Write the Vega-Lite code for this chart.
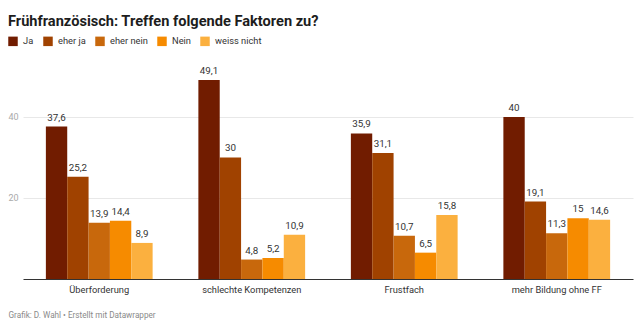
{
  "$schema": "https://vega.github.io/schema/vega-lite/v6.json",
  "width": 610,
  "height": 199,
  "autosize": {"type": "none"},
  "padding": {"left": 23, "top": 80, "right": 7, "bottom": 49},
  "config": {
    "view": {"stroke": null},
    "font": "Roboto",
    "locale": {"number": {"decimal": ",", "thousands": ".", "grouping": [3], "currency": ["", "€"]}}
  },
  "title": {
    "text": "Frühfranzösisch: Treffen folgende Faktoren zu?",
    "anchor": "start",
    "frame": "group",
    "font": "Roboto",
    "fontSize": 14.6,
    "fontWeight": "bold",
    "color": "#1d1d1d",
    "baseline": "alphabetic",
    "dx": -15,
    "offset": -4.5
  },
  "data": {
    "values": [
      {"kategorie": "Überforderung", "antwort": "Ja", "wert": 37.6},
      {"kategorie": "Überforderung", "antwort": "eher ja", "wert": 25.2},
      {"kategorie": "Überforderung", "antwort": "eher nein", "wert": 13.9},
      {"kategorie": "Überforderung", "antwort": "Nein", "wert": 14.4},
      {"kategorie": "Überforderung", "antwort": "weiss nicht", "wert": 8.9},
      {"kategorie": "schlechte Kompetenzen", "antwort": "Ja", "wert": 49.1},
      {"kategorie": "schlechte Kompetenzen", "antwort": "eher ja", "wert": 30},
      {"kategorie": "schlechte Kompetenzen", "antwort": "eher nein", "wert": 4.8},
      {"kategorie": "schlechte Kompetenzen", "antwort": "Nein", "wert": 5.2},
      {"kategorie": "schlechte Kompetenzen", "antwort": "weiss nicht", "wert": 10.9},
      {"kategorie": "Frustfach", "antwort": "Ja", "wert": 35.9},
      {"kategorie": "Frustfach", "antwort": "eher ja", "wert": 31.1},
      {"kategorie": "Frustfach", "antwort": "eher nein", "wert": 10.7},
      {"kategorie": "Frustfach", "antwort": "Nein", "wert": 6.5},
      {"kategorie": "Frustfach", "antwort": "weiss nicht", "wert": 15.8},
      {"kategorie": "mehr Bildung ohne FF", "antwort": "Ja", "wert": 40},
      {"kategorie": "mehr Bildung ohne FF", "antwort": "eher ja", "wert": 19.1},
      {"kategorie": "mehr Bildung ohne FF", "antwort": "eher nein", "wert": 11.3},
      {"kategorie": "mehr Bildung ohne FF", "antwort": "Nein", "wert": 15},
      {"kategorie": "mehr Bildung ohne FF", "antwort": "weiss nicht", "wert": 14.6}
    ]
  },
  "encoding": {
    "x": {
      "field": "kategorie",
      "type": "nominal",
      "sort": ["Überforderung", "schlechte Kompetenzen", "Frustfach", "mehr Bildung ohne FF"],
      "scale": {"paddingInner": 0.3, "paddingOuter": 0.15},
      "axis": {
        "title": "Grafik: D. Wahl • Erstellt mit Datawrapper",
        "titleFont": "Roboto",
        "titleFontSize": 8.2,
        "titleFontWeight": "normal",
        "titleColor": "#8a8a8a",
        "titleX": -15,
        "titleY": 36,
        "titleAlign": "left",
        "titleAnchor": "start",
        "titleBaseline": "middle",
        "labelAngle": 0,
        "labelFontSize": 9.3,
        "labelColor": "#333333",
        "labelPadding": 6,
        "ticks": false,
        "domainColor": "#333333",
        "domainWidth": 1
      }
    },
    "xOffset": {
      "field": "antwort",
      "type": "nominal",
      "sort": ["Ja", "eher ja", "eher nein", "Nein", "weiss nicht"],
      "scale": {"paddingInner": 0, "paddingOuter": 0}
    },
    "y": {
      "field": "wert",
      "type": "quantitative",
      "scale": {"domain": [0, 49.1], "nice": false},
      "axis": {
        "title": null,
        "values": [20, 40],
        "domain": false,
        "ticks": false,
        "labelFontSize": 9,
        "labelColor": "#aaaaaa",
        "labelPadding": 5,
        "gridColor": "#e8e8e8",
        "gridWidth": 1
      }
    }
  },
  "layer": [
    {
      "mark": {"type": "bar"},
      "encoding": {
        "color": {
          "field": "antwort",
          "type": "nominal",
          "sort": ["Ja", "eher ja", "eher nein", "Nein", "weiss nicht"],
          "scale": {
            "domain": ["Ja", "eher ja", "eher nein", "Nein", "weiss nicht"],
            "range": ["#711c00", "#a04200", "#c8680c", "#f68b00", "#fbb03f"]
          },
          "legend": {
            "title": null,
            "orient": "none",
            "legendX": -15,
            "legendY": -44,
            "direction": "horizontal",
            "symbolType": "square",
            "symbolSize": 90,
            "symbolStrokeWidth": 0,
            "labelFontSize": 9.3,
            "labelColor": "#333333",
            "labelOffset": 5,
            "columnPadding": 9
          }
        }
      }
    },
    {
      "mark": {"type": "text", "baseline": "bottom", "dy": -4, "fontSize": 9.8, "color": "#333333"},
      "encoding": {
        "text": {"field": "wert", "type": "quantitative", "format": ".1~f"}
      }
    }
  ]
}
